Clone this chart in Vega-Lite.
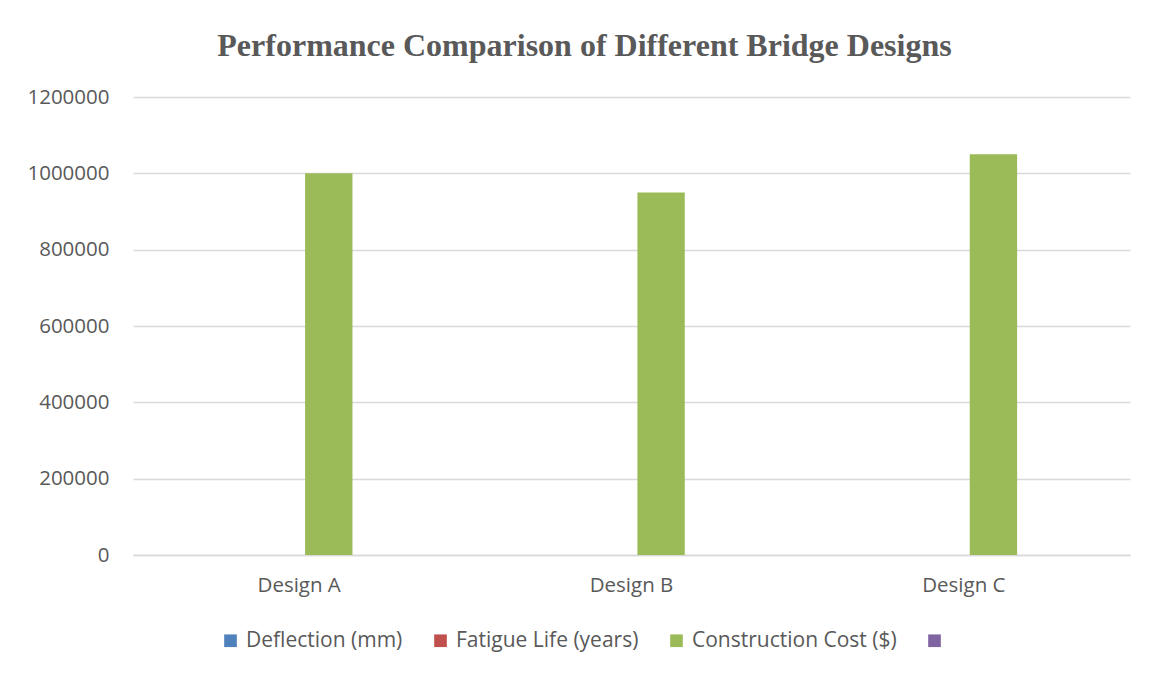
{
  "$schema": "https://vega.github.io/schema/vega-lite/v6.json",
  "autosize": "none",
  "width": 997,
  "height": 458,
  "padding": {"left": 133, "top": 97, "right": 21, "bottom": 119},
  "background": "white",
  "title": {
    "text": "Performance Comparison of Different Bridge Designs",
    "font": "Liberation Serif",
    "fontSize": 32,
    "fontWeight": "bold",
    "color": "#595959",
    "anchor": "middle",
    "dx": -47,
    "offset": 24
  },
  "config": {
    "view": {"stroke": null},
    "font": "Open Sans"
  },
  "data": {
    "values": [
      {"design": "Design A", "metric": "Deflection (mm)", "value": 25},
      {"design": "Design A", "metric": "Fatigue Life (years)", "value": 100},
      {"design": "Design A", "metric": "Construction Cost ($)", "value": 1000000},
      {"design": "Design B", "metric": "Deflection (mm)", "value": 20},
      {"design": "Design B", "metric": "Fatigue Life (years)", "value": 120},
      {"design": "Design B", "metric": "Construction Cost ($)", "value": 950000},
      {"design": "Design C", "metric": "Deflection (mm)", "value": 30},
      {"design": "Design C", "metric": "Fatigue Life (years)", "value": 80},
      {"design": "Design C", "metric": "Construction Cost ($)", "value": 1050000}
    ]
  },
  "mark": {"type": "bar"},
  "encoding": {
    "x": {
      "field": "design",
      "type": "nominal",
      "scale": {"paddingInner": 0.323, "paddingOuter": 0.1615},
      "axis": {
        "title": null,
        "labelAngle": 0,
        "labelFont": "Open Sans",
        "labelFontSize": 20.5,
        "labelColor": "#595959",
        "labelPadding": 20,
        "ticks": false,
        "domainColor": "#d9d9d9",
        "domainWidth": 1.5
      }
    },
    "xOffset": {
      "field": "metric",
      "type": "nominal",
      "scale": {
        "domain": ["Deflection (mm)", "Fatigue Life (years)", "Construction Cost ($)", " "],
        "paddingInner": 0.2,
        "paddingOuter": 0
      }
    },
    "y": {
      "field": "value",
      "type": "quantitative",
      "scale": {"domain": [0, 1200000], "nice": false},
      "axis": {
        "title": null,
        "values": [0, 200000, 400000, 600000, 800000, 1000000, 1200000],
        "format": "d",
        "labelFont": "Open Sans",
        "labelFontSize": 20.5,
        "labelColor": "#595959",
        "labelPadding": 24,
        "ticks": false,
        "domain": false,
        "gridColor": "#d9d9d9",
        "gridWidth": 1.5
      }
    },
    "color": {
      "field": "metric",
      "type": "nominal",
      "scale": {
        "domain": ["Deflection (mm)", "Fatigue Life (years)", "Construction Cost ($)", " "],
        "range": ["#4F81BD", "#C0504D", "#9BBB59", "#8064A2"]
      },
      "legend": {
        "title": null,
        "orient": "none",
        "direction": "horizontal",
        "legendX": 87,
        "legendY": 533,
        "symbolType": "square",
        "symbolSize": 160,
        "symbolStrokeWidth": 0,
        "labelFont": "Open Sans",
        "labelFontSize": 21,
        "labelColor": "#595959",
        "labelOffset": 5,
        "columnPadding": 27,
        "labelLimit": 400
      }
    }
  }
}
